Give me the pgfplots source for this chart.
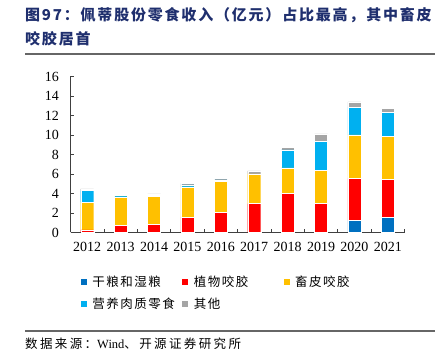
\documentclass[border=0pt]{standalone}
\usepackage{pgfplots}
\pgfplotsset{compat=1.18}
\usepackage{pgfplotstable}
\usepackage{fontspec}
\setmainfont{Liberation Serif}
\newfontfamily\cjk{Noto Sans CJK SC}
\definecolor{cDry}{HTML}{0070C0}
\definecolor{cPlant}{HTML}{FF0000}
\definecolor{cHide}{HTML}{FFC000}
\definecolor{cNut}{HTML}{00B0F0}
\definecolor{cOther}{HTML}{A5A5A5}
\definecolor{titleblue}{HTML}{1F2F6E}
\pgfplotstableread{
x dry plant hide nut other
0 0    0.27 2.81 1.22 0.18
1 0    0.75 2.91 0.17 0.10
2 0    0.82 2.87 0.14 0.14
3 0    1.57 3.11 0.21 0.14
4 0    2.09 3.14 0.17 0.14
5 0    2.97 3.05 0.00 0.30
6 0    4.00 2.63 1.85 0.24
7 0    2.97 3.39 3.01 0.75
8 1.23 4.31 4.48 2.83 0.55
9 1.54 3.93 4.38 2.49 0.41
}\data
\newcommand{\legtxt}[1]{\makebox[94bp][l]{\hspace{5bp}\cjk\addfontfeature{LetterSpace=12}#1}}
\begin{document}
\begin{tikzpicture}
\useasboundingbox (0bp,0bp) rectangle (445bp,352bp);
% title
\node[anchor=base west, inner sep=0pt, text=titleblue, font={\fontsize{15bp}{18bp}\selectfont\cjk\bfseries\addfontfeature{LetterSpace=12}}] at (25bp,331bp) {图97：佩蒂股份零食收入（亿元）占比最高，其中畜皮};
\node[anchor=base west, inner sep=0pt, text=titleblue, font={\fontsize{15bp}{18bp}\selectfont\cjk\bfseries\addfontfeature{LetterSpace=12}}] at (25bp,307bp) {咬胶居首};
\draw[black!60, line width=1.2bp] (25bp,298bp) -- (435bp,298bp);
\draw[black!60, line width=1.2bp] (25bp,21bp) -- (435bp,21bp);
\node[anchor=base west, inner sep=0pt, font={\fontsize{12.5bp}{14bp}\selectfont}] at (25bp,4bp) {{\cjk\addfontfeature{LetterSpace=19}数据来源：}Wind{\cjk\addfontfeature{LetterSpace=19}、开源证券研究所}};
\begin{axis}[
  at={(70.5bp,119.5bp)}, anchor=south west,
  scale only axis, width=334bp, height=156bp,
  ybar stacked, bar width=13bp,
  xmin=-0.5, xmax=9.5, ymin=0, ymax=16,
  axis x line*=bottom, axis y line*=left,
  axis line style={black!75, line width=0.8bp},
  every tick/.style={black!75, line width=0.8bp},
  tick align=inside,
  major tick length=3bp,
  xtick={0.5,1.5,...,9.5},
  xticklabels={},
  extra x ticks={0,...,9},
  extra x tick labels={2012,2013,2014,2015,2016,2017,2018,2019,2020,2021},
  extra x tick style={major tick length=0pt},
  ytick={0,2,...,16},
  tick label style={font={\fontsize{14bp}{16bp}\selectfont}},
  yticklabel style={xshift=-8bp},
  xticklabel style={yshift=-6bp},
  /pgf/number format/assume math mode=true,
  legend columns=3,
  legend cell align=left,
  legend style={draw=none, fill=none, inner sep=0pt, at={(rel axis cs:0.0284,-0.275)}, anchor=north west,
    nodes={inner sep=0pt}, row sep=10bp, font={\fontsize{12.5bp}{14bp}\selectfont}},
  legend image code/.code={\fill[#1] (0bp,-3.5bp) rectangle (7bp,3.5bp);},
  every axis plot/.append style={draw=white, line width=0.3bp},
]
\addplot[fill=cDry] table[x=x,y=dry]{\data};
\addplot[fill=cPlant] table[x=x,y=plant]{\data};
\addplot[fill=cHide] table[x=x,y=hide]{\data};
\addplot[fill=cNut] table[x=x,y=nut]{\data};
\addplot[fill=cOther] table[x=x,y=other]{\data};
\legend{\legtxt{干粮和湿粮},\legtxt{植物咬胶},\legtxt{畜皮咬胶},\legtxt{营养肉质零食},\legtxt{其他}}
\end{axis}
\end{tikzpicture}
\end{document}
